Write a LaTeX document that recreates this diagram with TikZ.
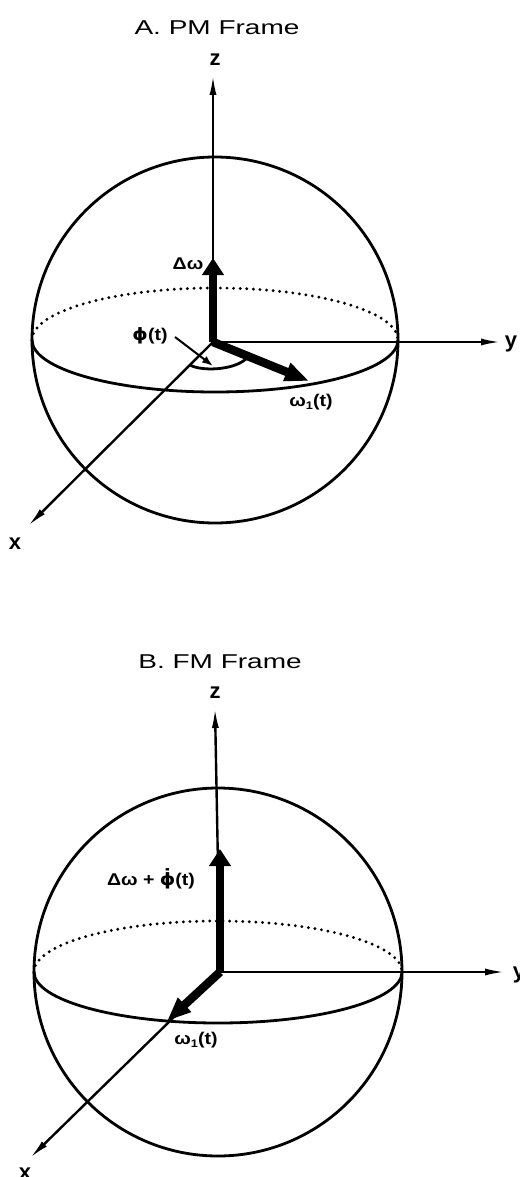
\documentclass[tikz,border=0pt]{standalone}
\usepackage{fontspec}
\setmainfont{Liberation Sans}
\newfontfamily\gk{DejaVu Sans}
\usetikzlibrary{arrows.meta}
\newcommand{\phidotx}{{\gk\bfseries ϕ̇}}
\newcommand{\subone}{\raisebox{-0.35ex}{\fontsize{11}{11}\selectfont 1}}
\begin{document}
\begin{tikzpicture}[x=1pt,y=-1pt,
  sph/.style={line width=2.8pt},
  back/.style={line width=3.2pt,dash pattern=on 0pt off 6.6pt,line cap=round},
  axis/.style={line width=2.4pt,-{Latex[length=20pt,width=7pt]}},
  vecz/.style={line width=8.5pt,-{Triangle[length=17pt,width=21pt]}},
  vecw/.style={line width=8.5pt,-{Triangle[length=24pt,width=18pt]}},
  ptr/.style={line width=2pt,-{Latex[length=11pt,width=8pt]}},
  lab/.style={font=\fontsize{17}{17}\selectfont\bfseries,inner sep=0pt,xscale=1.15,transform shape},
  axl/.style={font=\fontsize{22}{22}\selectfont\bfseries,inner sep=0pt},
  ttl/.style={font=\fontsize{20}{20}\selectfont,inner sep=0pt,xscale=1.4,transform shape},
  ]
\useasboundingbox (0,0) rectangle (519,1177);
% ---------- A. PM Frame ----------
\node[ttl] (ta) at (217,28) {A. PM Frame};
\coordinate (Oa) at (213,342);
\coordinate (Ca) at (215,340);
\draw[sph] (Ca) circle[radius=183];
\draw[back] (Ca) ++(-183,0) arc[start angle=180,end angle=360,x radius=183,y radius=52];
\draw[sph] (Ca) ++(183,0) arc[start angle=0,end angle=180,x radius=183,y radius=52];
\coordinate (za) at (213,75);
\coordinate (ya) at (501,342);
\coordinate (xa) at (28,526);
\draw[axis] (Oa) -- (za);
\draw[axis] (Oa) -- (ya);
\draw[axis] (Oa) -- (xa);
\coordinate (dwa) at (213,258);
\coordinate (w1a) at (309,381);
\draw[vecz] (Oa) -- (dwa);
\draw[vecw] (Oa) -- (w1a);
\coordinate (arc1) at (190,365);
\coordinate (arc2) at (246,359);
\draw[sph] (arc1) .. controls (200,371) and (232,371) .. (arc2);
\coordinate (pa1) at (175,337);
\coordinate (pa2) at (213,366);
\draw[ptr] (pa1) -- (pa2);
\node[axl] (lza) at (215,60) {z};
\node[axl] (lya) at (511,344) {y};
\node[axl] (lxa) at (15,544) {x};
\node[lab] (ldwa) at (188,264) {Δω};
\node[lab] (lpha) at (150,336) {{\gk ϕ}(t)};
\node[lab] (lw1a) at (311,402) {ω\subone(t)};
% ---------- B. FM Frame ----------
\node[ttl] (tb) at (220,662) {B. FM Frame};
\coordinate (Ob) at (220,972);
\coordinate (Cb) at (218,972);
\draw[sph] (Cb) circle[radius=184];
\draw[back] (Cb) ++(-184,0) arc[start angle=180,end angle=360,x radius=184,y radius=51];
\draw[sph] (Cb) ++(184,0) arc[start angle=0,end angle=180,x radius=184,y radius=51];
\coordinate (zb) at (215,708);
\coordinate (yb) at (505,972);
\coordinate (xb) at (30,1158);
\draw[axis] (Ob) -- (zb);
\draw[axis] (Ob) -- (yb);
\draw[axis] (Ob) -- (xb);
\coordinate (dwb) at (220,849);
\coordinate (w1b) at (167,1021);
\draw[vecz] (Ob) -- (dwb);
\draw[vecw] (Ob) -- (w1b);
\node[axl] (lzb) at (215,693) {z};
\node[axl] (lyb) at (519,975) {y};
\node[axl] (lxb) at (25,1174) {x};
\node[lab,anchor=base] (ldwb) at (151,885) {Δω + \phidotx(t)};
\node[lab] (lw1b) at (196,1040) {ω\subone(t)};
\end{tikzpicture}
\end{document}
